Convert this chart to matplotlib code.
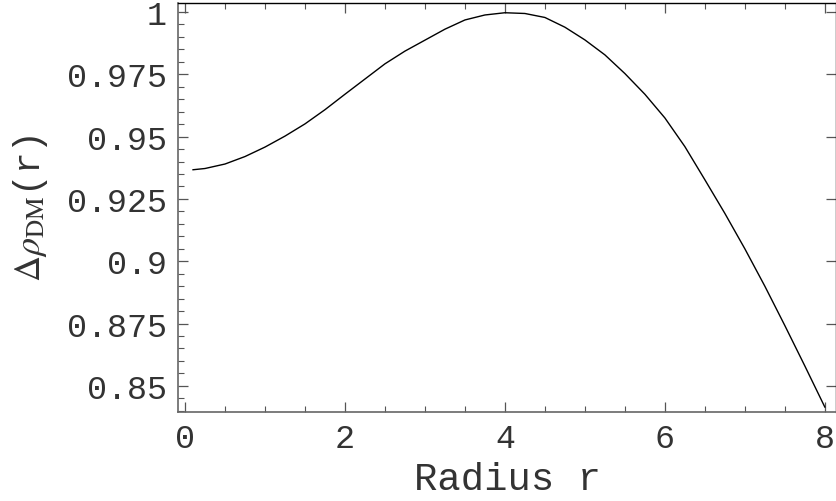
import numpy as np
import matplotlib.pyplot as plt
from matplotlib.ticker import MultipleLocator

# values
radius = [0.1, 0.25, 0.5, 0.75, 1.0, 1.25, 1.5, 1.75, 2.0, 2.25, 2.5, 2.75,
          3.0, 3.25, 3.5, 3.75, 4.0, 4.25, 4.5, 4.75, 5.0, 5.25, 5.5, 5.75,
          6.0, 6.25, 6.5, 6.75, 7.0, 7.25, 7.5, 7.75, 8.0]
delta_rho = [0.9367, 0.9372, 0.9390, 0.9420, 0.9458, 0.9502, 0.9551, 0.9608,
             0.9670, 0.9731, 0.9792, 0.9843, 0.9887, 0.9931, 0.9968, 0.9988,
             0.9997, 0.9994, 0.9978, 0.9939, 0.9888, 0.9828, 0.9753, 0.9670,
             0.9575, 0.9460, 0.9327, 0.9192, 0.9050, 0.8900, 0.8742, 0.8580,
             0.8415]
x_ticks = [0, 2, 4, 6, 8]
y_ticks = [0.85, 0.875, 0.9, 0.925, 0.95, 0.975, 1.0]
y_tick_labels = ['0.85', '0.875', '0.9', '0.925', '0.95', '0.975', '1']

plt.rcParams['font.family'] = ['Liberation Mono', 'DejaVu Sans']
plt.rcParams['mathtext.fontset'] = 'stix'

fig = plt.figure(figsize=(8.37, 5.02), dpi=100)
ax = fig.add_axes([0.2127, 0.1773, 0.7861, 0.8147])

ax.plot(radius, delta_rho, color='black', linewidth=1.0)

ax.set_xlim(-0.0875, 8.14)
ax.set_ylim(0.8395, 1.0036)

ax.set_xticks(x_ticks)
ax.set_yticks(y_ticks)
ax.set_yticklabels(y_tick_labels)
ax.xaxis.set_minor_locator(MultipleLocator(0.5))
ax.yaxis.set_minor_locator(MultipleLocator(0.005))

ax.tick_params(which='both', direction='in', top=True, right=True,
               labelsize=24, colors='#555555', labelcolor='#333333')
ax.tick_params(which='major', length=7, width=0.9, pad=8)
ax.tick_params(which='minor', length=4, width=0.8)
ax.tick_params(axis='y', which='minor', right=False)

for side in ['left', 'bottom']:
    ax.spines[side].set_color('#666666')
    ax.spines[side].set_linewidth(1.2)
for side in ['top', 'right']:
    ax.spines[side].set_color('black')
    ax.spines[side].set_linewidth(1.0)

ax.set_xlabel('Radius r', fontsize=28, color='#333333', labelpad=5)
ax.set_ylabel(r'$\Delta\rho_{\rm DM}$(r)', fontsize=26, color='#333333',
              labelpad=12)

plt.savefig('out.png', dpi=100)
